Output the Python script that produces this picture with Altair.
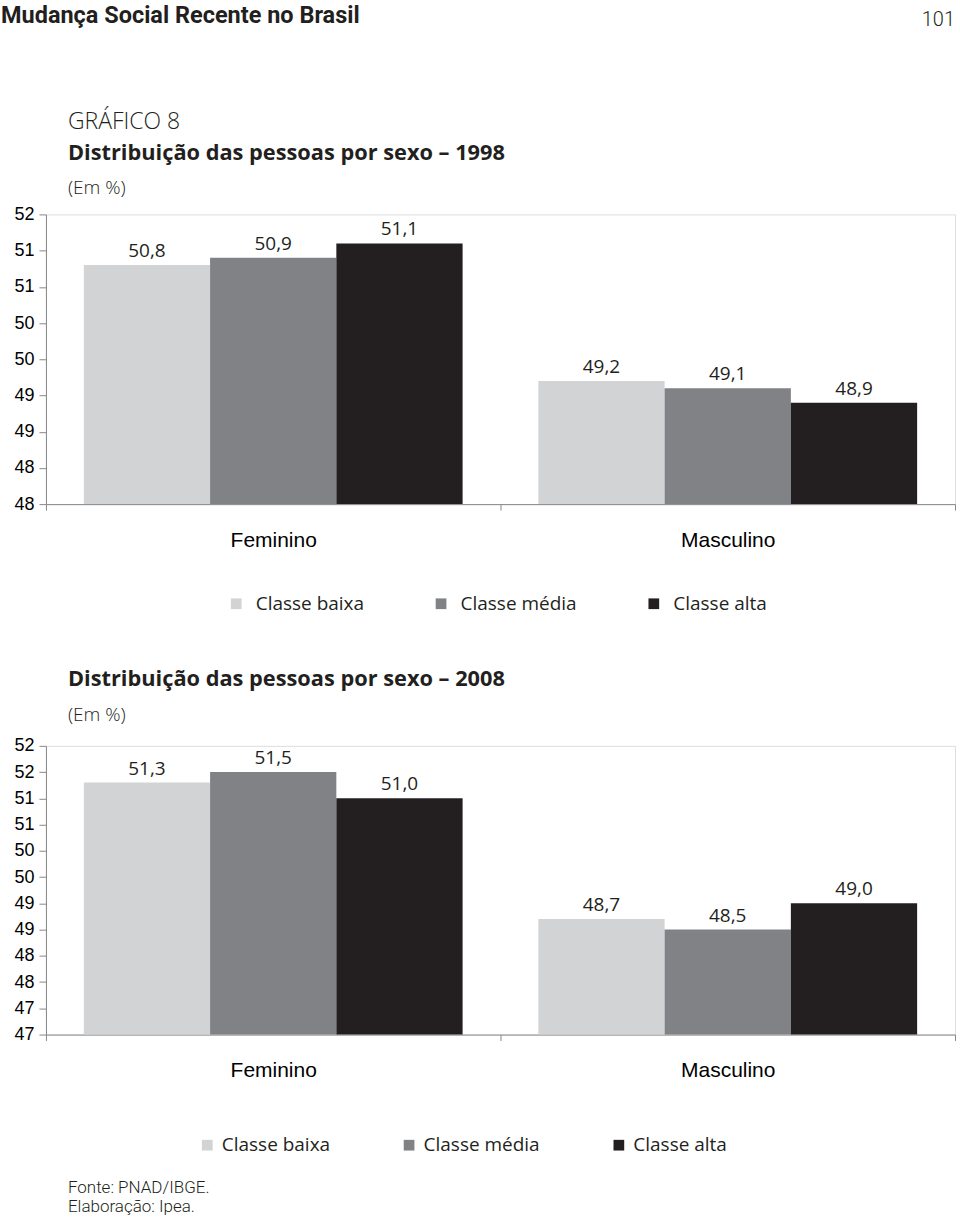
import altair as alt
import pandas as pd

# ---------------- data ----------------
sexos = ["Feminino", "Masculino"]
classes = ["Classe baixa", "Classe média", "Classe alta"]
cores = ["#d1d3d4", "#808285", "#231f20"]

fem_1998 = [50.8, 50.9, 51.1]
masc_1998 = [49.2, 49.1, 48.9]
fem_2008 = [51.3, 51.5, 51.0]
masc_2008 = [48.7, 48.5, 49.0]

ticks_1998 = [47.5, 48.0, 48.5, 49.0, 49.5, 50.0, 50.5, 51.0, 51.5]
ticks_2008 = [46.5, 47.0, 47.5, 48.0, 48.5, 49.0, 49.5, 50.0, 50.5, 51.0, 51.5, 52.0]

cabecalho = "Mudança Social Recente no Brasil"
pagina = "101"
grafico = "GRÁFICO 8"
titulo_1998 = "Distribuição das pessoas por sexo – 1998"
titulo_2008 = "Distribuição das pessoas por sexo – 2008"
unidade = "(Em %)"
fonte = "Fonte: PNAD/IBGE."
elaboracao = "Elaboração: Ipea."

INK = "#231f20"
LINE = "#3a3a3a"
FONT = "Open Sans"
NARROW = "Roboto"

W = 910


def frame(fem, masc):
    rows = []
    for s, vals in zip(sexos, [fem, masc]):
        for c, v in zip(classes, vals):
            rows.append({"sexo": s, "classe": c, "valor": v})
    return pd.DataFrame(rows)


def nota(texto, x, y, size, weight="normal", align="left", font=FONT):
    return alt.Chart(pd.DataFrame({"t": [texto]})).mark_text(
        align=align, baseline="middle", fontSize=size, fontWeight=weight,
        font=font, color=INK
    ).encode(text="t:N", x=alt.value(x), y=alt.value(y))


def painel(df, ticks, height, lx, ly, loff, cpad, notas):
    yscale = alt.Scale(domain=[ticks[0], ticks[-1]], nice=False, zero=False)
    x = alt.X(
        "sexo:N", sort=sexos,
        scale=alt.Scale(paddingInner=0, paddingOuter=0),
        axis=alt.Axis(title=None, labelAngle=0, tickBand="extent", tickSize=6,
                      labelPadding=19, labelFontSize=21),
    )
    xo = alt.XOffset("classe:N", sort=classes,
                     scale=alt.Scale(paddingInner=0, paddingOuter=0.3))
    y = alt.Y("valor:Q", scale=yscale,
              axis=alt.Axis(values=ticks, tickCount=len(ticks) + 2, format=".0f",
                            title=None, tickSize=7, labelPadding=5,
                            labelFontSize=18, grid=False,
                            labelOverlap=False, labelFlush=False))
    color = alt.Color(
        "classe:N", sort=classes,
        scale=alt.Scale(domain=classes, range=cores),
        legend=alt.Legend(title=None, orient="none", legendX=lx, legendY=ly,
                          direction="horizontal", symbolType="square",
                          symbolSize=115, symbolStrokeWidth=0, labelFontSize=19,
                          labelFont=FONT, labelColor=INK,
                          columnPadding=cpad, labelOffset=loff, padding=0),
    )
    bars = alt.Chart(df).mark_bar().encode(
        x=x, xOffset=xo, y=y, y2=alt.datum(ticks[0]), color=color
    )
    labels = alt.Chart(df).transform_calculate(
        rotulo="replace(format(datum.valor, '.1f'), '.', ',')"
    ).mark_text(dy=-8, baseline="alphabetic", fontSize=19, font=FONT, color=INK).encode(
        x=x, xOffset=xo, y=alt.Y("valor:Q"), text="rotulo:N"
    )
    return alt.layer(bars, labels, *notas).properties(width=W, height=height)


p1 = painel(
    frame(fem_1998, masc_1998), ticks_1998, 290, 181, 380, 10, 67,
    [
        nota(cabecalho, -45, -199, 23.5, "bold", font=NARROW),
        nota(pagina, W, -195, 20, 300, align="right", font=NARROW),
        nota(grafico, 22, -93, 23, 300),
        nota(titulo_1998, 22, -61, 21.8, "bold"),
        nota(unidade, 22, -26, 19, 300),
    ],
)

p2 = painel(
    frame(fem_2008, masc_2008), ticks_2008, 289, 152, 390, 5, 69,
    [
        nota(titulo_2008, 22, -67, 21.8, "bold"),
        nota(unidade, 22, -31, 19, 300),
        nota(fonte, 22, 443, 17, 300, font=NARROW),
        nota(elaboracao, 22, 462, 17, 300, font=NARROW),
    ],
)

chart = alt.vconcat(p1, p2, spacing=242, bounds="flush").resolve_scale(
    color="independent"
).resolve_legend(
    color="independent"
).properties(
    padding={"left": 0, "top": 2, "right": 4, "bottom": 4}
).configure_view(
    stroke=LINE, strokeWidth=1.5
).configure_axis(
    domainColor=LINE, domainWidth=1.5, tickColor=LINE, tickWidth=1.5,
    labelColor=INK, labelFont=FONT
).configure(background="white")

chart.save("out.html", embed_options={"renderer": "svg", "actions": False})
